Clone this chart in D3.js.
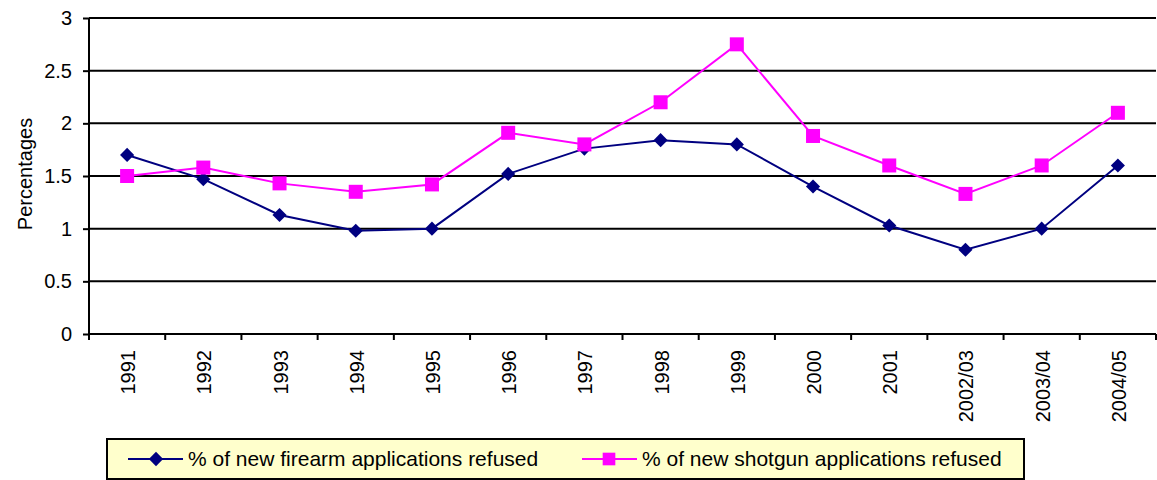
<!DOCTYPE html>
<html>
<head>
<meta charset="utf-8">
<script src="https://cdn.jsdelivr.net/npm/d3@7"></script>
<style>
  body { margin: 0; background: #fff; }
  svg { display: block; font-family: "Liberation Sans", Arial, sans-serif; }
</style>
</head>
<body>
<div id="chart"></div>
<script>
// chart data
const years = ["1991", "1992", "1993", "1994", "1995", "1996", "1997", "1998", "1999", "2000", "2001", "2002/03", "2003/04", "2004/05"];
const firearmRefused = [1.7, 1.47, 1.13, 0.98, 1.0, 1.52, 1.76, 1.84, 1.8, 1.4, 1.03, 0.8, 1.0, 1.6];
const shotgunRefused = [1.5, 1.58, 1.43, 1.35, 1.42, 1.91, 1.8, 2.2, 2.75, 1.88, 1.6, 1.33, 1.6, 2.1];
const yTicks = [0, 0.5, 1, 1.5, 2, 2.5, 3];

const W = 1157, H = 480;
const margin = { top: 18, right: 1, bottom: 146, left: 89 },
    width = W - margin.left - margin.right,
    height = H - margin.top - margin.bottom;

const svg = d3.select("#chart")
    .append("svg")
    .attr("width", W)
    .attr("height", H);

const g = svg.append("g")
    .attr("transform", `translate(${margin.left}, ${margin.top})`);

// scales
const xScale = d3.scaleBand().domain(years).range([0, width]);
const yScale = d3.scaleLinear().domain([0, 3]).range([height, 0]);
const xc = d => xScale(d) + xScale.bandwidth() / 2;

// gridlines
g.selectAll(".grid")
    .data(yTicks.filter(t => t > 0))
    .enter().append("line")
    .attr("x1", 0)
    .attr("x2", width)
    .attr("y1", d => yScale(d))
    .attr("y2", d => yScale(d))
    .attr("stroke", "#000")
    .attr("stroke-width", 2);

// y axis
const yAxis = g.append("g")
    .call(d3.axisLeft(yScale).tickValues(yTicks).tickSize(6).tickPadding(11).tickFormat(d => d));
yAxis.select(".domain").attr("stroke-width", 2).attr("d", `M0,0V${height}`);
yAxis.selectAll(".tick line").attr("stroke-width", 2);
yAxis.selectAll("text")
    .style("font-size", "20px")
    .attr("fill", "#000");

// x axis with ticks between categories
const xAxis = g.append("g").attr("transform", `translate(0, ${height})`);
xAxis.append("line")
    .attr("x1", 0).attr("x2", width)
    .attr("stroke", "#000").attr("stroke-width", 2);
xAxis.selectAll(".xtick")
    .data(years.concat(["end"]))
    .enter().append("line")
    .attr("x1", (d, i) => i * xScale.step())
    .attr("x2", (d, i) => i * xScale.step())
    .attr("y1", 0).attr("y2", 6)
    .attr("stroke", "#000").attr("stroke-width", 2);
xAxis.selectAll(".xlabel")
    .data(years)
    .enter().append("text")
    .attr("transform", d => `translate(${xc(d) + 8}, 16) rotate(-90)`)
    .attr("text-anchor", "end")
    .style("font-size", "20px")
    .text(d => d);

// y axis label
svg.append("text")
    .attr("transform", `translate(32, 174) rotate(-90)`)
    .attr("text-anchor", "middle")
    .style("font-size", "20px")
    .text("Percentages");

// lines
const line = d3.line().x((d, i) => xc(years[i])).y(d => yScale(d));
g.append("path").datum(firearmRefused)
    .attr("d", line).attr("fill", "none")
    .attr("stroke", "#000080").attr("stroke-width", 2);
g.append("path").datum(shotgunRefused)
    .attr("d", line).attr("fill", "none")
    .attr("stroke", "#ff00ff").attr("stroke-width", 2);

// markers
const diamond = d3.symbol().type(d3.symbolSquare).size(100);
g.selectAll(".fa")
    .data(firearmRefused)
    .enter().append("path")
    .attr("d", diamond)
    .attr("transform", (d, i) => `translate(${xc(years[i])}, ${yScale(d)}) rotate(45)`)
    .attr("fill", "#000080");
g.selectAll(".sg")
    .data(shotgunRefused)
    .enter().append("rect")
    .attr("x", (d, i) => xc(years[i]) - 7)
    .attr("y", d => yScale(d) - 7)
    .attr("width", 14).attr("height", 14)
    .attr("fill", "#ff00ff");

// legend
const legend = svg.append("g").attr("transform", "translate(107, 439)");
legend.append("rect")
    .attr("width", 917).attr("height", 40)
    .attr("fill", "#ffffcc")
    .attr("stroke", "#000").attr("stroke-width", 2);

const legendData = [
    { label: "% of new firearm applications refused", color: "#000080", x: 21, shape: "diamond" },
    { label: "% of new shotgun applications refused", color: "#ff00ff", x: 475, shape: "square" }
];
const items = legend.selectAll(".item")
    .data(legendData)
    .enter().append("g")
    .attr("transform", d => `translate(${d.x}, 20)`);
items.append("line")
    .attr("x1", 0).attr("x2", 55)
    .attr("stroke", d => d.color).attr("stroke-width", 2);
items.append("path")
    .attr("d", d3.symbol().type(d3.symbolSquare).size(160))
    .attr("transform", d => d.shape === "diamond" ? "translate(28,0) rotate(45) scale(0.8)" : "translate(27,0)")
    .attr("fill", d => d.color);
items.append("text")
    .attr("x", 60).attr("y", 7)
    .style("font-size", "21px")
    .text(d => d.label);
</script>
</body>
</html>
